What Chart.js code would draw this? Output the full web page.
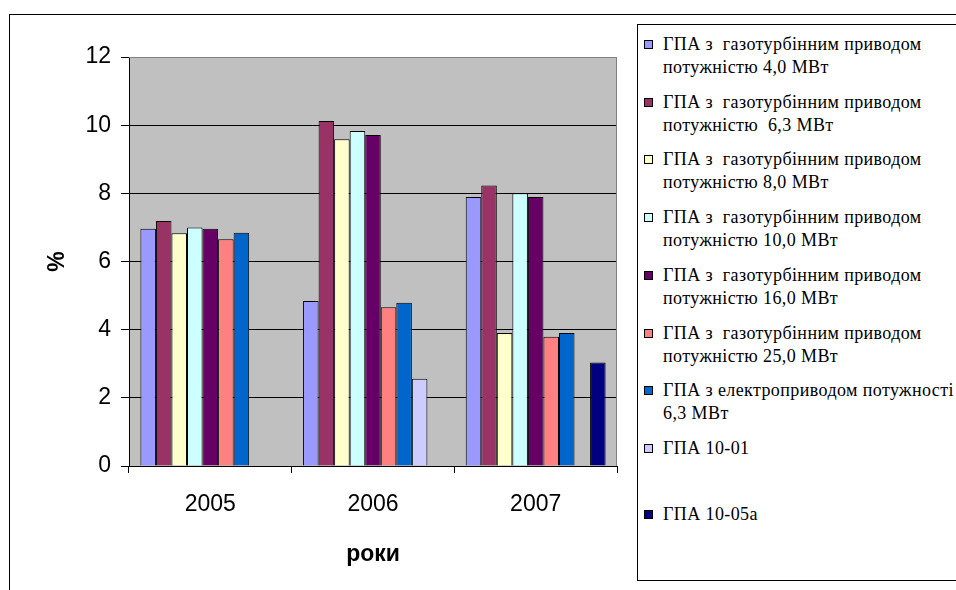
<!DOCTYPE html>
<html>
<head>
<meta charset="utf-8">
<script src="https://cdn.jsdelivr.net/npm/chart.js@4.4.1/dist/chart.umd.min.js"></script>
<style>
html,body{margin:0;padding:0;background:#fff}
#wrap{position:relative;width:956px;height:590px;overflow:hidden}
#frame{position:absolute;left:9px;top:14px;width:980px;height:600px;border:1px solid #000;box-sizing:border-box}
#c{position:absolute;left:0;top:0}
#legend{position:absolute;left:637px;top:24px;width:340px;height:557px;border:1px solid #000;background:#fff;box-sizing:border-box}
.item{position:absolute;left:6px;font-family:"Liberation Serif","Times New Roman",serif;font-size:18px;letter-spacing:0.4px;line-height:23px;white-space:pre;color:#000}
.item .sw{position:absolute;left:0;top:7px;width:7px;height:7px;border:1px solid #000}
.item .tx{position:absolute;left:19px;top:0}
</style>
</head>
<body>
<div id="wrap">
  <div id="frame"></div>
  <canvas id="c" width="956" height="590"></canvas>
  <div id="legend"></div>
</div>
<script>
// ===== DATA =====
const YEARS=['2005','2006','2007'];
const SERIES_LABELS=[
  ['ГПА з  газотурбінним приводом','потужністю 4,0 МВт'],
  ['ГПА з  газотурбінним приводом','потужністю  6,3 МВт'],
  ['ГПА з  газотурбінним приводом','потужністю 8,0 МВт'],
  ['ГПА з  газотурбінним приводом','потужністю 10,0 МВт'],
  ['ГПА з  газотурбінним приводом','потужністю 16,0 МВт'],
  ['ГПА з  газотурбінним приводом','потужністю 25,0 МВт'],
  ['ГПА з електроприводом потужності','6,3 МВт'],
  ['ГПА 10-01'],
  ['ГПА 10-05а']
];
const GT_4_0=[6.96,4.84,7.89];
const GT_6_3=[7.19,10.12,8.23];
const GT_8_0=[6.83,9.59,3.90];
const GT_10_0=[7.00,9.83,8.00];
const GT_16_0=[6.96,9.71,7.89];
const GT_25_0=[6.65,4.66,3.79];
const EL_6_3=[6.84,4.79,3.90];
const GPA_10_01=[null,2.56,null];
const GPA_10_05A=[null,null,3.04];
const SERIES_VALUES=[GT_4_0,GT_6_3,GT_8_0,GT_10_0,GT_16_0,GT_25_0,EL_6_3,GPA_10_01,GPA_10_05A];
const COLORS=['#9999FF','#993366','#FFFFCC','#CCFFFF','#660066','#FF8080','#0066CC','#CCCCFF','#000080'];
const Y_TICKS=[0,2,4,6,8,10,12];

// ===== LEGEND (html, two-line labels) =====
const legendEl=document.getElementById('legend');
SERIES_LABELS.forEach((lines,i)=>{
  const top=8+i*57.7+(i===8?8:0);
  const d=document.createElement('div');
  d.className='item';d.style.top=top+'px';
  d.innerHTML=`<span class="sw" style="background:${COLORS[i]}"></span><span class="tx">${lines.join('\n')}</span>`;
  legendEl.appendChild(d);
});

// ===== CHART =====
const plotBg={
  id:'plotBg',
  beforeDraw(chart){
    const {ctx,chartArea:a}=chart;
    ctx.save();ctx.fillStyle='#C0C0C0';ctx.fillRect(a.left,a.top,a.right-a.left,a.bottom-a.top);ctx.restore();
  },
  beforeDatasetsDraw(chart){
    const {ctx,chartArea:a}=chart;
    ctx.save();ctx.strokeStyle='#808080';ctx.lineWidth=1;
    ctx.beginPath();ctx.moveTo(a.left,a.top+0.5);ctx.lineTo(a.right-0.5,a.top+0.5);ctx.lineTo(a.right-0.5,a.bottom);ctx.stroke();
    ctx.restore();
  }
};

const datasets=SERIES_VALUES.map((vals,i)=>({
  label:SERIES_LABELS[i].join(' '),
  data:vals,
  backgroundColor:COLORS[i],
  borderColor:'#000',
  borderWidth:1,
  categoryPercentage:0.86,
  barPercentage:1
}));

new Chart(document.getElementById('c'),{
  type:'bar',
  data:{labels:YEARS,datasets},
  plugins:[plotBg],
  options:{
    responsive:false,animation:false,
    layout:{padding:{left:0,top:57,right:339,bottom:0}},
    plugins:{legend:{display:false},tooltip:{enabled:false}},
    scales:{
      x:{
        afterFit:s=>{s.height=124},
        grid:{offset:true,drawOnChartArea:false,drawTicks:true,tickLength:7,color:'#000'},
        border:{color:'#000'},
        ticks:{color:'#000',padding:18,font:{family:'"Liberation Sans", Arial, sans-serif',size:23}},
        title:{display:true,text:'роки',color:'#000',padding:{top:0,bottom:22},font:{family:'"Liberation Sans", Arial, sans-serif',size:23,weight:'bold'}}
      },
      y:{
        min:0,max:12,
        afterFit:s=>{s.width=129},
        afterBuildTicks:s=>{s.ticks=Y_TICKS.map(v=>({value:v}))},
        grid:{color:c=>c.tick&&c.tick.value===12?'#808080':'#000',tickColor:'#000',tickLength:8,drawTicks:true},
        border:{color:'#000'},
        ticks:{color:'#000',padding:10,font:{family:'"Liberation Sans", Arial, sans-serif',size:23}},
        title:{display:true,text:'%',color:'#000',padding:{top:44,bottom:0},font:{family:'"Liberation Sans", Arial, sans-serif',size:23,weight:'bold'}}
      }
    }
  }
});
</script>
</body>
</html>
